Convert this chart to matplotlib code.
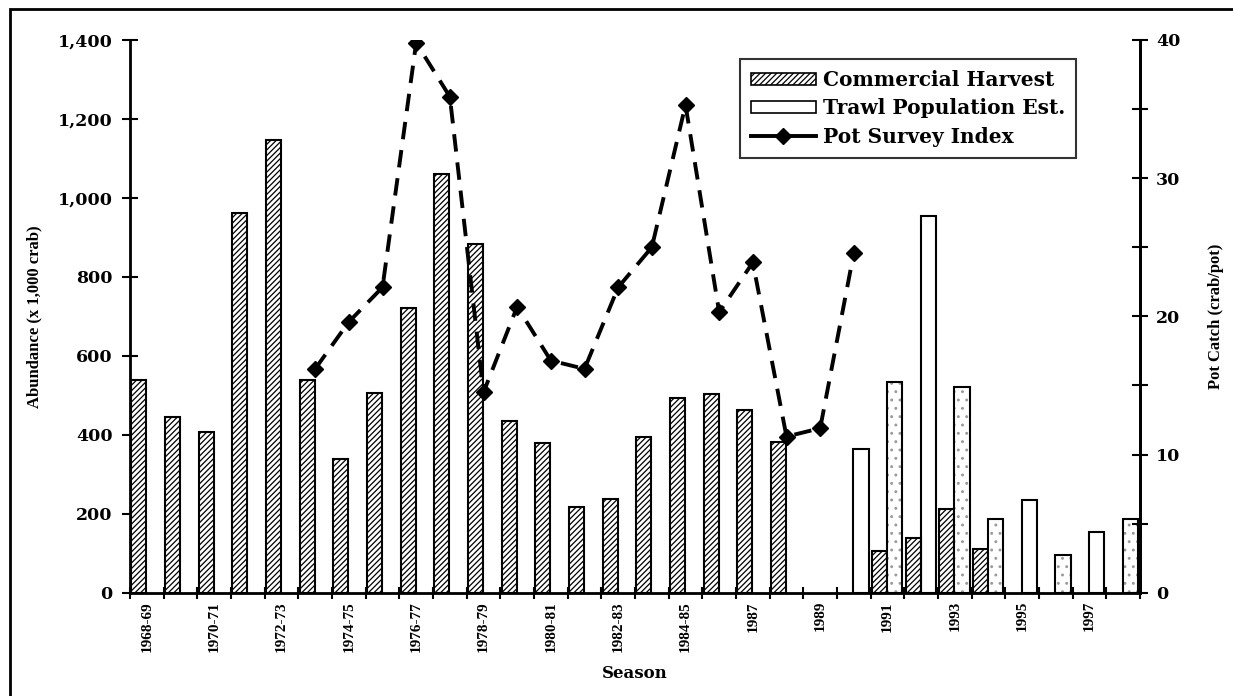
import numpy as np
import matplotlib
matplotlib.use("Agg")
import matplotlib.pyplot as plt
from matplotlib.lines import Line2D
from matplotlib.patches import Patch, Rectangle
from matplotlib.ticker import FuncFormatter, MultipleLocator

# ── data (x 1,000 crab / crab per pot) ──
seasons = ["1968-69", "1969-70", "1970-71", "1971-72", "1972-73", "1973-74",
           "1974-75", "1975-76", "1976-77", "1977-78", "1978-79", "1979-80",
           "1980-81", "1981-82", "1982-83", "1983-84", "1984-85", "1986",
           "1987", "1988", "1989", "1990", "1991", "1992", "1993", "1994",
           "1995", "1996", "1997", "1998"]

nan = np.nan
harvest = [540, 446, 406, 963, 1146, 540, 339, 505, 722, 1060,
           882, 435, 380, 218, 237, 395, 493, 504, 464, 381,
           nan, nan, 106, 138, 211, 111, nan, nan, nan, nan]

trawl = [nan] * 21 + [363, 534, 954, 522, 186, 235, 95, 154, 186]

pot_index = [nan] * 5 + [16.2, 19.6, 22.1, 39.8, 35.9, 14.5, 20.7, 16.8, 16.2,
                         22.1, 25.0, 35.3, 20.3, 23.9, 11.3, 11.9, 24.6] + [nan] * 8

# trawl bars that were printed with a light stipple
dotted = {"1991", "1993", "1994", "1996", "1998"}

SERIF_W = "DejaVu Serif"
TIMES = "Liberation Serif"
plt.rcParams["hatch.linewidth"] = 0.9

fig = plt.figure(figsize=(12.33, 6.96), dpi=100)
ax = fig.add_axes([130 / 1233, 1 - 592.7 / 696, 1010 / 1233, 552.7 / 696])

x = np.arange(len(seasons))
w = 0.45
x_left = x + 0.04 + w / 2
x_right = x + 0.49 + w / 2

# commercial harvest, hatched
ax.bar(x_left, harvest, width=w, color="white", edgecolor="black",
       hatch="//////", linewidth=1.5, zorder=2)

# trawl estimate: stipple layer then outline
dot_mask = [s in dotted for s in seasons]
trawl_dots = [v if m else nan for v, m in zip(trawl, dot_mask)]
ax.bar(x_right, trawl_dots, width=w, color="white", edgecolor="#9a9a9a",
       hatch="..", linewidth=0, zorder=2)
ax.bar(x_right, trawl, width=w, color="none", edgecolor="black",
       linewidth=1.5, zorder=3)

ax.set_xlim(0, len(seasons))
ax.set_ylim(0, 1400)
ax.yaxis.set_major_locator(MultipleLocator(200))
ax.yaxis.set_major_formatter(FuncFormatter(lambda v, p: f"{int(v):,}"))

ax.set_xticks(np.arange(0, len(seasons) + 1))
ax.set_xticklabels([])
ax.set_xticks(x[::2] + 0.5, minor=True)
ax.set_xticklabels(seasons[::2], minor=True, rotation=90,
                   fontfamily=TIMES, fontweight="bold", fontsize=11)
ax.tick_params(axis="x", which="major", direction="inout", length=9, width=1.5)
ax.tick_params(axis="x", which="minor", length=0, pad=6)
ax.tick_params(axis="y", direction="inout", length=11, width=1.5, pad=7)
for lab in ax.get_yticklabels():
    lab.set_fontfamily(SERIF_W)
    lab.set_fontweight("bold")
    lab.set_fontsize(12.5)

for side in ["left", "bottom", "right"]:
    ax.spines[side].set_linewidth(2)
ax.spines["top"].set_visible(False)

ax.set_ylabel("Abundance (x 1,000 crab)", fontfamily=TIMES,
              fontweight="bold", fontsize=12)
ax.yaxis.set_label_coords(-0.087, 0.5)
ax.set_xlabel("Season", fontfamily=SERIF_W, fontweight="bold", fontsize=12)
ax.xaxis.set_label_coords(0.5, -0.13)

# pot survey index on the right axis
ax2 = ax.twinx()
ax2.plot(x + 0.5, pot_index, color="black", linewidth=2.8,
         linestyle=(0, (4.5, 2.8)), marker="D", markersize=8, zorder=4)
ax2.set_ylim(0, 40)
ax2.yaxis.set_major_locator(MultipleLocator(10))
ax2.yaxis.set_minor_locator(MultipleLocator(5))
ax2.tick_params(axis="y", which="both", direction="inout", length=11,
                width=1.5, pad=6)
for lab in ax2.get_yticklabels():
    lab.set_fontfamily(SERIF_W)
    lab.set_fontweight("bold")
    lab.set_fontsize(12.5)
ax2.spines["top"].set_visible(False)
ax2.spines["right"].set_linewidth(2)
ax2.set_ylabel("Pot Catch (crab/pot)", fontfamily=TIMES,
               fontweight="bold", fontsize=12)
ax2.yaxis.set_label_coords(1.067, 0.5)

# legend: line handle drawn solid like the original
handles = [
    Patch(facecolor="white", edgecolor="black", hatch="//////", linewidth=1.2),
    Patch(facecolor="white", edgecolor="black", linewidth=1.2),
    Line2D([], [], color="black", linewidth=2.8, marker="D", markersize=8),
]
labels = ["Commercial Harvest", "Trawl Population Est.", "Pot Survey Index"]
leg = ax2.legend(handles, labels, loc="upper left",
                 bbox_to_anchor=(0.604, 0.966), frameon=True, fancybox=False,
                 prop={"family": SERIF_W, "weight": "bold", "size": 14.5},
                 handlelength=3.2, handleheight=0.55, handletextpad=0.35,
                 labelspacing=0.42, borderpad=0.55, borderaxespad=0)
leg.get_frame().set_edgecolor("black")
leg.get_frame().set_linewidth(1.5)

# outer frame of the scanned page (runs off right and bottom)
fig.patches.append(Rectangle((10 / 1233, -0.1), 1.2, 1 - 9 / 696 + 0.1,
                             transform=fig.transFigure, fill=False,
                             edgecolor="black", linewidth=2))

fig.savefig("out.png", dpi=100)
